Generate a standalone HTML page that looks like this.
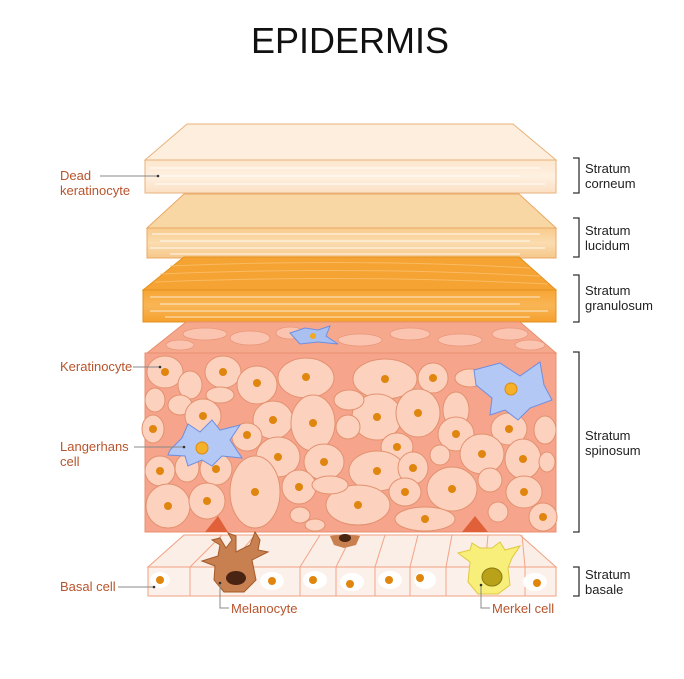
<!DOCTYPE html>
<html><head><meta charset="utf-8"><style>
html,body{margin:0;padding:0;background:#fff;}
svg{display:block;font-family:"Liberation Sans",sans-serif;}
.l{fill:#b8542c;font-size:13px;}
.r{fill:#222;font-size:13px;}
.ln{stroke:#888;stroke-width:1;fill:none;}
.br{stroke:#333;stroke-width:1.3;fill:none;}
</style></head><body>
<svg width="684" height="679" viewBox="0 0 684 679">
<defs>
<linearGradient id="g1" x1="0" y1="0" x2="0" y2="1"><stop offset="0" stop-color="#fde6cd"/><stop offset="0.5" stop-color="#fef0e0"/><stop offset="1" stop-color="#fbe0c2"/></linearGradient>
<linearGradient id="g2" x1="0" y1="0" x2="0" y2="1"><stop offset="0" stop-color="#f8cb8c"/><stop offset="0.5" stop-color="#fbdcaf"/><stop offset="1" stop-color="#f6c88a"/></linearGradient>
<linearGradient id="g3" x1="0" y1="0" x2="0" y2="1"><stop offset="0" stop-color="#f7a534"/><stop offset="0.5" stop-color="#f9b555"/><stop offset="1" stop-color="#f5a02c"/></linearGradient>
</defs>
<text x="350" y="53" text-anchor="middle" font-size="36" fill="#111">EPIDERMIS</text>

<polygon points="145,160 187,124 513,124 556,160" fill="#fdeedd" stroke="#e9b27c"/>
<rect x="145" y="160" width="411" height="33" fill="url(#g1)" stroke="#e9b27c"/>
<g stroke="#fff" stroke-width="1.2" opacity="0.7" fill="none"><path d="M150 168 H540 M160 176 H520 M155 184 H545"/></g>
<polygon points="147,228 184,194 519,194 556,228" fill="#f9d7a5" stroke="#e9a864"/>
<rect x="147" y="228" width="409" height="30" fill="url(#g2)" stroke="#e9a864"/>
<g stroke="#fff" stroke-width="1.3" opacity="0.7" fill="none"><path d="M152 234 H540 M160 241 H530 M150 248 H545 M170 254 H520"/></g>
<polygon points="143,290 184,257 519,257 556,290" fill="#f5a333" stroke="#e39020"/>
<g stroke="#fbc16d" stroke-width="1" opacity="0.8" fill="none"><path d="M170 266 Q350 258 530 268 M160 274 Q350 266 540 276 M155 282 Q350 274 548 284"/></g>
<rect x="143" y="290" width="413" height="32" fill="url(#g3)" stroke="#e39020"/>
<g stroke="#fff" stroke-width="1.3" opacity="0.6" fill="none"><path d="M150 297 H540 M160 304 H520 M150 311 H548 M165 317 H530"/></g>

<polygon points="147,353 186,322 520,322 556,353" fill="#f6a88d" stroke="#e88f6f"/>
<g fill="#fac4b0" stroke="#e9967a" stroke-width="0.8">
<ellipse cx="205" cy="334" rx="22" ry="6"/><ellipse cx="250" cy="338" rx="20" ry="7"/><ellipse cx="290" cy="333" rx="14" ry="6"/><ellipse cx="360" cy="340" rx="22" ry="6"/><ellipse cx="410" cy="334" rx="20" ry="6"/><ellipse cx="460" cy="340" rx="22" ry="6"/><ellipse cx="510" cy="334" rx="18" ry="6"/><ellipse cx="530" cy="345" rx="15" ry="5"/><ellipse cx="180" cy="345" rx="14" ry="5"/>
</g>
<path d="M290 333 L305 328 L318 330 L330 326 L326 336 L338 344 L318 342 L300 344 Z" fill="#a9c0f0" stroke="#6f8ee0"/>
<circle cx="313" cy="336" r="3" fill="#f2a91e"/>
<rect x="145" y="353" width="411" height="179" fill="#f6a58c" stroke="#e88f6f"/>
<g fill="#fcd2bf" stroke="#e3916f" stroke-width="1">
<ellipse cx="165" cy="372" rx="18" ry="16"/><ellipse cx="223" cy="372" rx="18" ry="16"/><ellipse cx="257" cy="385" rx="20" ry="19"/><ellipse cx="306" cy="378" rx="28" ry="20"/><ellipse cx="385" cy="379" rx="32" ry="20"/><ellipse cx="433" cy="378" rx="15" ry="15"/><ellipse cx="470" cy="378" rx="15" ry="9"/>
<ellipse cx="190" cy="385" rx="12" ry="14"/><ellipse cx="155" cy="400" rx="10" ry="12"/><ellipse cx="180" cy="405" rx="12" ry="10"/><ellipse cx="220" cy="395" rx="14" ry="8"/>
<ellipse cx="203" cy="416" rx="18" ry="17"/><ellipse cx="153" cy="429" rx="11" ry="14"/><ellipse cx="273" cy="420" rx="20" ry="19"/><ellipse cx="313" cy="423" rx="22" ry="28"/><ellipse cx="377" cy="417" rx="25" ry="23"/><ellipse cx="418" cy="413" rx="22" ry="24"/><ellipse cx="456" cy="410" rx="13" ry="18"/><ellipse cx="349" cy="400" rx="15" ry="10"/><ellipse cx="348" cy="427" rx="12" ry="12"/>
<ellipse cx="247" cy="437" rx="15" ry="14"/><ellipse cx="456" cy="434" rx="18" ry="17"/><ellipse cx="509" cy="429" rx="18" ry="16"/><ellipse cx="545" cy="430" rx="11" ry="14"/>
<ellipse cx="397" cy="447" rx="16" ry="14"/><ellipse cx="278" cy="457" rx="22" ry="20"/><ellipse cx="324" cy="462" rx="20" ry="18"/><ellipse cx="377" cy="471" rx="28" ry="20"/><ellipse cx="413" cy="468" rx="15" ry="16"/><ellipse cx="440" cy="455" rx="10" ry="10"/><ellipse cx="482" cy="454" rx="22" ry="20"/><ellipse cx="523" cy="459" rx="18" ry="20"/><ellipse cx="547" cy="462" rx="8" ry="10"/>
<ellipse cx="160" cy="471" rx="15" ry="15"/><ellipse cx="216" cy="469" rx="16" ry="16"/><ellipse cx="187" cy="468" rx="12" ry="14"/>
<ellipse cx="299" cy="487" rx="17" ry="17"/><ellipse cx="452" cy="489" rx="25" ry="22"/><ellipse cx="524" cy="492" rx="18" ry="16"/><ellipse cx="490" cy="480" rx="12" ry="12"/>
<ellipse cx="168" cy="506" rx="22" ry="22"/><ellipse cx="207" cy="501" rx="18" ry="18"/><ellipse cx="255" cy="492" rx="25" ry="36"/><ellipse cx="358" cy="505" rx="32" ry="20"/><ellipse cx="405" cy="492" rx="16" ry="14"/><ellipse cx="425" cy="519" rx="30" ry="12"/><ellipse cx="543" cy="517" rx="14" ry="14"/><ellipse cx="300" cy="515" rx="10" ry="8"/><ellipse cx="315" cy="525" rx="10" ry="6"/><ellipse cx="330" cy="485" rx="18" ry="9"/><ellipse cx="498" cy="512" rx="10" ry="10"/>
</g>
<path d="M205 532 L218 516 L228 532 Z M462 532 L475 516 L488 532 Z" fill="#e0603a"/>
<g fill="#e0860e">
<circle cx="165" cy="372" r="4"/><circle cx="223" cy="372" r="4"/><circle cx="257" cy="383" r="4"/><circle cx="306" cy="377" r="4"/><circle cx="385" cy="379" r="4"/><circle cx="433" cy="378" r="4"/><circle cx="203" cy="416" r="4"/><circle cx="153" cy="429" r="4"/><circle cx="273" cy="420" r="4"/><circle cx="313" cy="423" r="4"/><circle cx="377" cy="417" r="4"/><circle cx="418" cy="413" r="4"/><circle cx="247" cy="435" r="4"/><circle cx="456" cy="434" r="4"/><circle cx="509" cy="429" r="4"/><circle cx="397" cy="447" r="4"/><circle cx="278" cy="457" r="4"/><circle cx="324" cy="462" r="4"/><circle cx="377" cy="471" r="4"/><circle cx="413" cy="468" r="4"/><circle cx="482" cy="454" r="4"/><circle cx="523" cy="459" r="4"/><circle cx="160" cy="471" r="4"/><circle cx="216" cy="469" r="4"/><circle cx="299" cy="487" r="4"/><circle cx="452" cy="489" r="4"/><circle cx="524" cy="492" r="4"/><circle cx="168" cy="506" r="4"/><circle cx="207" cy="501" r="4"/><circle cx="255" cy="492" r="4"/><circle cx="358" cy="505" r="4"/><circle cx="405" cy="492" r="4"/><circle cx="425" cy="519" r="4"/><circle cx="543" cy="517" r="4"/>
</g>
<path d="M170 450 L182 438 L188 424 L200 432 L212 420 L220 430 L240 425 L230 440 L242 458 L222 456 L212 466 L202 460 L188 466 L185 456 L168 455 Z" fill="#b3c8f4" stroke="#6f8ee0"/>
<circle cx="202" cy="448" r="6" fill="#f5b12a" stroke="#e08a10"/>
<path d="M474 370 L500 363 L520 376 L540 362 L544 385 L552 400 L530 408 L518 420 L505 410 L490 415 L492 398 L476 385 Z" fill="#b3c8f4" stroke="#6f8ee0"/>
<circle cx="511" cy="389" r="6" fill="#f5b12a" stroke="#e08a10"/>

<polygon points="148,567 184,535 520,535 556,567" fill="#fbeee6" stroke="#f0a080"/>
<g stroke="#f3a488" stroke-width="1" fill="none"><path d="M190 567 L222 535 M228 567 L255 535 M300 567 L320 535 M336 567 L352 535 M375 567 L385 535 M410 567 L418 535 M446 567 L452 535 M485 567 L488 535 M525 567 L522 535"/></g>
<rect x="148" y="567" width="408" height="29" fill="#fbf0ea" stroke="#f0a080"/>
<g stroke="#f3a488" stroke-width="1" fill="none"><path d="M190 567 V596 M300 567 V596 M336 567 V596 M375 567 V596 M410 567 V596 M446 567 V596 M525 567 V596"/></g>
<g fill="#fff"><ellipse cx="160" cy="580" rx="10" ry="8"/><ellipse cx="315" cy="580" rx="12" ry="9"/><ellipse cx="352" cy="582" rx="12" ry="9"/><ellipse cx="390" cy="580" rx="12" ry="9"/><ellipse cx="425" cy="580" rx="11" ry="9"/><ellipse cx="535" cy="582" rx="12" ry="9"/><ellipse cx="272" cy="581" rx="12" ry="9"/></g>
<g fill="#e0860e"><circle cx="160" cy="580" r="4"/><circle cx="313" cy="580" r="4"/><circle cx="350" cy="584" r="4"/><circle cx="389" cy="580" r="4"/><circle cx="420" cy="578" r="4"/><circle cx="537" cy="583" r="4"/><circle cx="272" cy="581" r="4"/></g>
<path d="M202 561 L218 556 L220 545 L212 540 L220 538 L226 548 L232 540 L228 533 L236 536 L236 552 L250 545 L255 532 L260 540 L258 550 L268 552 L252 560 L256 580 L244 592 L224 592 L214 580 L215 566 Z" fill="#c98050" stroke="#a45a28"/>
<ellipse cx="236" cy="578" rx="10" ry="7" fill="#4a2412"/>
<path d="M330 536 L345 534 L360 536 L356 545 L344 548 L334 545 Z" fill="#c98050"/>
<ellipse cx="345" cy="538" rx="6" ry="4" fill="#4a2412"/>
<path d="M458 553 L470 550 L472 543 L480 548 L492 548 L500 542 L505 550 L520 546 L512 558 L508 568 L510 585 L498 594 L478 594 L468 582 L470 562 Z" fill="#f7ef7a" stroke="#e0c840"/>
<ellipse cx="492" cy="577" rx="10" ry="9" fill="#b9a21a" stroke="#8a7810"/>

<path class="br" d="M573 158 H579 V193 H573 M573 218 H579 V257 H573 M573 275 H579 V322 H573 M573 352 H579 V532 H573 M573 567 H579 V596 H573"/>
<text class="r" x="585" y="173">Stratum</text><text class="r" x="585" y="188">corneum</text>
<text class="r" x="585" y="235">Stratum</text><text class="r" x="585" y="250">lucidum</text>
<text class="r" x="585" y="295">Stratum</text><text class="r" x="585" y="310">granulosum</text>
<text class="r" x="585" y="440">Stratum</text><text class="r" x="585" y="455">spinosum</text>
<text class="r" x="585" y="579">Stratum</text><text class="r" x="585" y="594">basale</text>

<text class="l" x="60" y="180">Dead</text><text class="l" x="60" y="195">keratinocyte</text>
<path class="ln" d="M100 176 H158"/><circle cx="158" cy="176" r="1.3" fill="#333"/>
<text class="l" x="60" y="371">Keratinocyte</text>
<path class="ln" d="M133 367 H160"/><circle cx="160" cy="367" r="1.3" fill="#333"/>
<text class="l" x="60" y="451">Langerhans</text><text class="l" x="60" y="466">cell</text>
<path class="ln" d="M134 447 H184"/><circle cx="184" cy="447" r="1.3" fill="#333"/>
<text class="l" x="60" y="591">Basal cell</text>
<path class="ln" d="M118 587 H154"/><circle cx="154" cy="587" r="1.3" fill="#333"/>
<path class="ln" d="M220 583 V608 H229"/><circle cx="220" cy="583" r="1.3" fill="#333"/>
<text class="l" x="231" y="613">Melanocyte</text>
<path class="ln" d="M481 585 V608 H490"/><circle cx="481" cy="585" r="1.3" fill="#333"/>
<text class="l" x="492" y="613">Merkel cell</text>
</svg>
</body></html>
